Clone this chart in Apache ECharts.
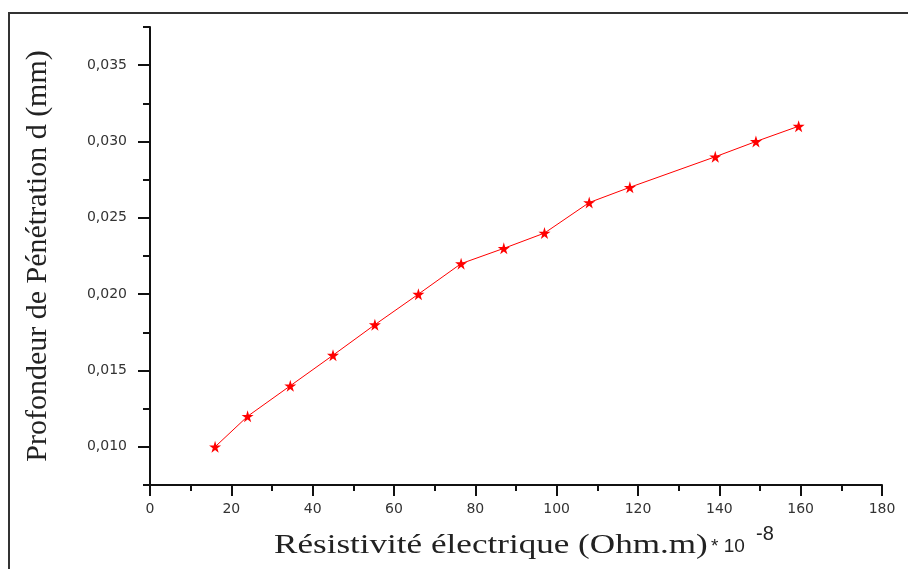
<!DOCTYPE html>
<html>
<head>
<meta charset="utf-8">
<script src="https://cdn.jsdelivr.net/npm/echarts@6/dist/echarts.min.js"></script>
<style>
  html, body { margin: 0; padding: 0; background: #fff; }
  #chart { width: 908px; height: 569px; }
</style>
</head>
<body>
<div id="chart"></div>
<script>
// values
var resistivity = [16, 24, 34.5, 45, 55.3, 66, 76.5, 87, 97, 108, 118, 139, 149, 159.5]
var depth = [0.010, 0.012, 0.014, 0.016, 0.018, 0.020, 0.022, 0.023, 0.024, 0.026, 0.027, 0.029, 0.030, 0.031]

// y tick positions (labelled majors, unlabelled minors)
var yMajorTicks = [0.010, 0.015, 0.020, 0.025, 0.030, 0.035]
var yMinorTicks = [0.0075, 0.0125, 0.0175, 0.0225, 0.0275, 0.0325, 0.0375]

var points = []
for (var i = 0; i < resistivity.length; i++) {
  points.push([resistivity[i], depth[i]])
}

var starPath = "path://M50,0 L61,35 L98,35 L68,57 L79,91 L50,70 L21,91 L32,57 L2,35 L39,35 Z"

var chart = echarts.init(document.getElementById("chart"))

var axisColor = "#111"

var option = {
  backgroundColor: "#fff",
  animation: false,
  graphic: [
    {
      type: "rect",
      shape: { x: 9, y: 13, width: 920, height: 600 },
      style: { fill: "none", stroke: "#333", lineWidth: 2 }
    },
    {
      type: "text",
      x: 274,
      y: 546,
      scaleX: 1.3,
      style: {
        text: "Résistivité électrique (Ohm.m)",
        font: "27px 'Liberation Serif'",
        fill: "#222",
        verticalAlign: "middle"
      }
    },
    {
      type: "text",
      x: 711,
      y: 556,
      style: {
        text: "* 10",
        font: "19px 'Liberation Sans'",
        fill: "#222",
        verticalAlign: "bottom"
      }
    },
    {
      type: "text",
      x: 756,
      y: 544,
      style: {
        text: "-8",
        font: "20px 'Liberation Sans'",
        fill: "#222",
        verticalAlign: "bottom"
      }
    }
  ],
  grid: { left: 150, right: 26, top: 27, bottom: 84 },
  xAxis: {
    type: "value",
    min: 0,
    max: 180,
    interval: 20,
    axisLine: { show: true, onZero: false, lineStyle: { color: axisColor, width: 2 } },
    axisTick: { show: true, inside: false, length: 11, lineStyle: { color: axisColor, width: 2 } },
    minorTick: { show: true, splitNumber: 2, length: 6, lineStyle: { color: axisColor, width: 2 } },
    axisLabel: {
      fontFamily: "DejaVu Sans",
      fontSize: 14,
      color: "#333",
      margin: 17
    },
    splitLine: { show: false },
    minorSplitLine: { show: false }
  },
  yAxis: [
    {
      type: "value",
      min: 0.0075,
      max: 0.0375,
      name: "Profondeur de Pénétration d (mm)",
      nameLocation: "middle",
      nameGap: 97,
      nameTextStyle: { fontFamily: "Liberation Serif", fontSize: 30, color: "#222" },
      axisLine: { show: true, onZero: false, lineStyle: { color: axisColor, width: 2 } },
      axisTick: {
        show: true,
        inside: false,
        length: 12,
        customValues: yMajorTicks,
        lineStyle: { color: axisColor, width: 2 }
      },
      axisLabel: {
        fontFamily: "DejaVu Sans",
        fontSize: 14,
        color: "#333",
        margin: 23,
        customValues: yMajorTicks,
        formatter: function (v) {
          return v.toFixed(3).replace(".", ",")
        }
      },
      splitLine: { show: false }
    },
    {
      type: "value",
      min: 0.0075,
      max: 0.0375,
      position: "left",
      axisLine: { show: false },
      axisTick: {
        show: true,
        inside: false,
        length: 7,
        customValues: yMinorTicks,
        lineStyle: { color: axisColor, width: 2 }
      },
      axisLabel: { show: false },
      splitLine: { show: false }
    }
  ],
  series: [
    {
      type: "line",
      data: points,
      symbol: starPath,
      symbolSize: 12,
      showSymbol: true,
      lineStyle: { color: "#ff0000", width: 1 },
      itemStyle: { color: "#ff0000" }
    }
  ]
}

chart.setOption(option)
</script>
</body>
</html>
